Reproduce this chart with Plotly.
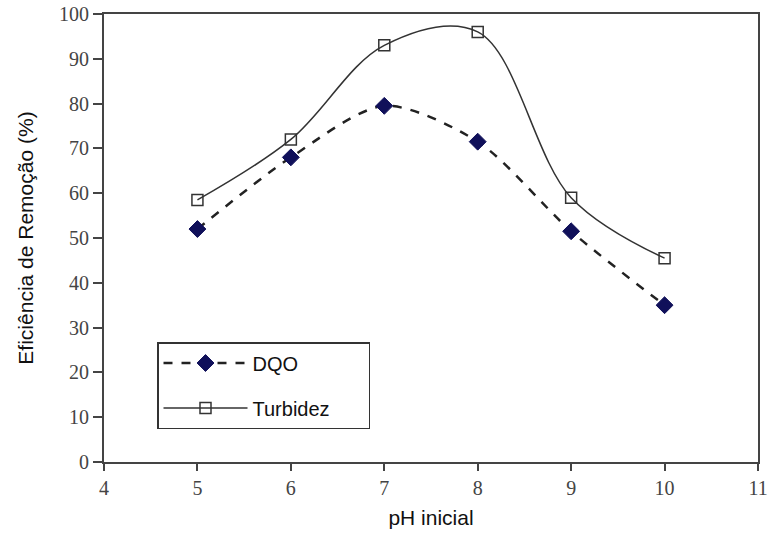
import plotly.graph_objects as go

ph = [5, 6, 7, 8, 9, 10]
dqo = [52, 68, 79.5, 71.5, 51.5, 35]
turbidez = [58.5, 72, 93, 96, 59, 45.5]
x_ticks = [4, 5, 6, 7, 8, 9, 10, 11]
y_ticks = [0, 10, 20, 30, 40, 50, 60, 70, 80, 90, 100]

fig = go.Figure()
fig.add_trace(go.Scatter(
    x=ph, y=dqo, name="DQO", mode="lines+markers",
    line=dict(color="#222222", width=2.5, dash="dash", shape="spline", smoothing=0.8),
    marker=dict(symbol="diamond", size=13, color="#10105a", line=dict(color="#10105a", width=1)),
    legendgroup="a",
))
fig.add_trace(go.Scatter(
    x=ph, y=turbidez, name="Turbidez" + "\u00a0" * 6, mode="lines+markers",
    line=dict(color="#333333", width=1.5, shape="spline", smoothing=1.0),
    marker=dict(symbol="square-open", size=11, color="#333333", line=dict(width=1.5)),
    legendgroup="b",
))

W, H = 768, 535
L, R, T, B = 104, 10, 14, 73

fig.update_layout(
    width=W, height=H,
    margin=dict(l=L, r=R, t=T, b=B),
    paper_bgcolor="white", plot_bgcolor="white",
    showlegend=True,
    legend=dict(
        x=(157 - 104) / 654, y=(462 - 342) / 448, xanchor="left", yanchor="top",
        bordercolor="#333333", borderwidth=1.5, bgcolor="white",
        font=dict(family="Liberation Sans", size=20, color="#111111"),
        itemwidth=84, tracegroupgap=16, traceorder="grouped",
    ),
    xaxis=dict(
        range=[4, 11], tickvals=x_ticks, ticktext=[str(v) for v in x_ticks],
        showgrid=False, zeroline=False, showline=True, linecolor="#444444", linewidth=2,
        mirror=True, ticks="outside", ticklen=7, tickcolor="#444444", tickwidth=2,
        tickfont=dict(family="Liberation Serif", size=20, color="#444444"),
        ticklabeloverflow="allow", automargin=False,
        title=dict(text="pH inicial", font=dict(family="Liberation Sans", size=21, color="#111111"), standoff=12),
    ),
    yaxis=dict(
        range=[0, 100], tickvals=y_ticks, ticktext=[str(v) for v in y_ticks],
        showgrid=False, zeroline=False, showline=True, linecolor="#444444", linewidth=2,
        mirror=True, ticks="outside", ticklen=9, tickcolor="#444444", tickwidth=2,
        tickfont=dict(family="Liberation Serif", size=20, color="#444444"),
        ticklabeloverflow="allow", automargin=False,
        title=dict(text="Eficiência de Remoção (%)", font=dict(family="Liberation Sans", size=21, color="#111111"), standoff=20),
    ),
)

# remove the default 8px page margin so the 768x535 figure fills the window exactly
fig.write_html(
    "out.html",
    config={"displayModeBar": False},
    post_script="document.body.style.margin='0';document.body.style.overflow='hidden';",
)
